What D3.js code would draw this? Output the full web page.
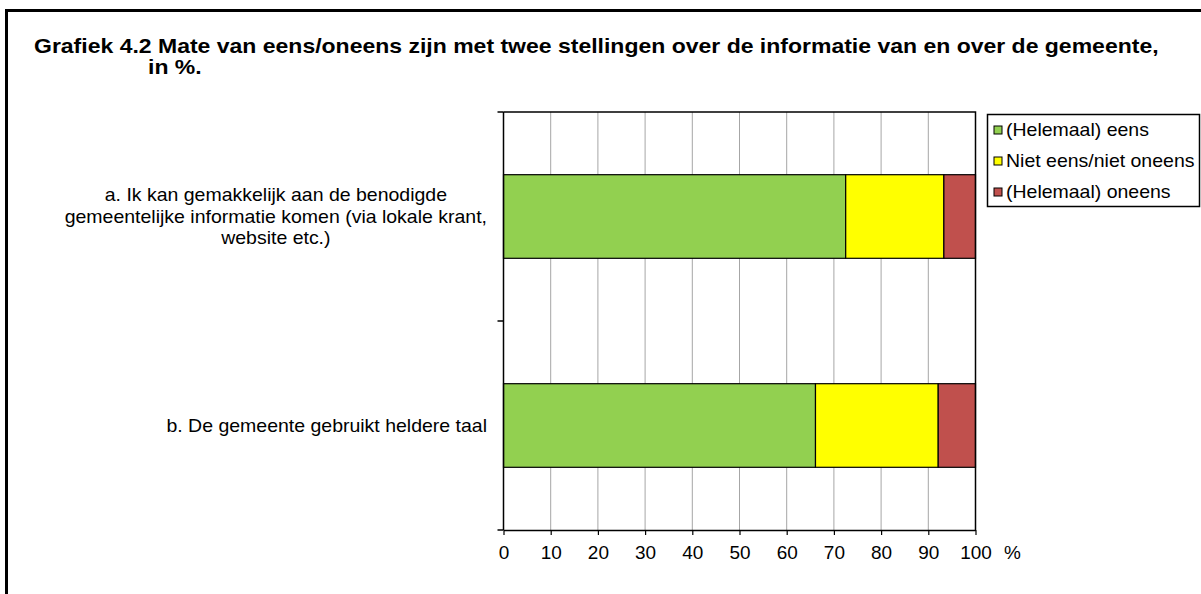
<!DOCTYPE html>
<html>
<head>
<meta charset="utf-8">
<script src="https://cdn.jsdelivr.net/npm/d3@7"></script>
<style>
  body { margin: 0; background: #fff; }
  svg { display: block; font-family: "Liberation Sans", Arial, sans-serif; }
</style>
</head>
<body>
<svg id="chart" width="1201" height="594"></svg>
<script>
// data
const categories = [
  ["a. Ik kan gemakkelijk aan de benodigde", "gemeentelijke informatie komen (via lokale krant,", "website etc.)"],
  ["b. De gemeente gebruikt heldere taal"]
]
const seriesNames = ["(Helemaal) eens", "Niet eens/niet oneens", "(Helemaal) oneens"]
const seriesColours = ["#92d050", "#ffff00", "#c0504d"]
const eens = [72.5, 66.1]
const neutraal = [20.8, 26.0]
const oneens = [6.7, 7.9]
const xTicks = [0, 10, 20, 30, 40, 50, 60, 70, 80, 90, 100]

const svg = d3.select("#chart")

// the source picture is a bit wider than tall, so text gets a horizontal stretch
function stretchedText(parent, str, x, y, size, sx, anchor) {
  return parent.append("text")
    .attr("transform", `translate(${x},${y}) scale(${sx},1)`)
    .attr("font-size", `${size}px`)
    .attr("text-anchor", anchor || "start")
    .text(str)
}

// outer frame (runs off the right and bottom edge)
svg.append("rect")
  .attr("x", 6.5).attr("y", 10.5)
  .attr("width", 1300).attr("height", 700)
  .style("fill", "white").style("stroke", "black").style("stroke-width", 3)

// title
stretchedText(svg, "Grafiek 4.2 Mate van eens/oneens zijn met twee stellingen over de informatie van en over de gemeente,", 34, 53, 20, 1.15)
  .attr("font-weight", "bold")
stretchedText(svg, "in %.", 148, 74, 20, 1.15)
  .attr("font-weight", "bold")

const plot = { left: 503.5, right: 975.5, top: 112, bottom: 530 }
const fontSize = 18
const stretch = 1.083

const x = d3.scaleLinear().domain([0, 100]).range([plot.left, plot.right])
const y = d3.scaleBand()
  .domain(d3.range(categories.length))
  .range([plot.top, plot.bottom])
  .paddingInner(0.6)
  .paddingOuter(0.3)

// gridlines
svg.append("g")
  .selectAll("line")
  .data(xTicks.slice(1, -1))
  .join("line")
  .attr("x1", d => x(d)).attr("x2", d => x(d))
  .attr("y1", plot.top).attr("y2", plot.bottom)
  .style("stroke", "#a6a6a6").style("stroke-width", 1)

// stacked bars
const rows = categories.map((c, i) => ({ i, values: [eens[i], neutraal[i], oneens[i]] }))
const stacked = d3.stack().keys([0, 1, 2]).value((d, k) => d.values[k])(rows)

svg.append("g")
  .selectAll("g")
  .data(stacked)
  .join("g")
  .style("fill", (d, k) => seriesColours[k])
  .selectAll("rect")
  .data(d => d)
  .join("rect")
  .attr("x", d => x(d[0]))
  .attr("width", d => x(d[1]) - x(d[0]))
  .attr("y", d => y(d.data.i))
  .attr("height", y.bandwidth())
  .style("stroke", "black").style("stroke-width", 1.2)

// plot frame: top and right edges
svg.append("path")
  .attr("d", `M${plot.left},${plot.top}H${plot.right}V${plot.bottom}`)
  .style("fill", "none").style("stroke", "black").style("stroke-width", 1.5)

// x axis
const xAxis = svg.append("g")
  .attr("transform", `translate(0,${plot.bottom})`)
  .call(d3.axisBottom(x).tickValues(xTicks).tickSize(5).tickSizeOuter(0))
xAxis.select(".domain").style("stroke-width", 1.5)
xAxis.selectAll(".tick line").style("stroke-width", 1.2)
xAxis.selectAll("text")
  .attr("font-size", "17.5px")
  .attr("font-family", "Liberation Sans, Arial, sans-serif")
  .attr("fill", "black")
  .attr("transform", `scale(${stretch},1)`)
  .attr("y", 23).attr("dy", "0.35em")
stretchedText(svg, "%", 1004, 559, 17.5, stretch)

// y axis: line with ticks at category boundaries
const yAxisG = svg.append("g")
yAxisG.append("line")
  .attr("x1", plot.left).attr("x2", plot.left)
  .attr("y1", plot.top).attr("y2", plot.bottom)
  .style("stroke", "black").style("stroke-width", 1.5)
const boundaries = [plot.top, (plot.top + plot.bottom) / 2, plot.bottom]
yAxisG.selectAll("line.tick")
  .data(boundaries)
  .join("line")
  .attr("class", "tick")
  .attr("x1", plot.left - 6).attr("x2", plot.left)
  .attr("y1", d => d).attr("y2", d => d)
  .style("stroke", "black").style("stroke-width", 1.5)

// category labels: block right-aligned, lines centred in block
const labelRight = 487
const lineH = 21.5
categories.forEach((lines, i) => {
  const g = svg.append("g")
  const texts = lines.map(s => stretchedText(g, s, 0, 0, fontSize, stretch, "middle"))
  const maxW = d3.max(texts, t => t.node().getComputedTextLength()) * stretch
  const cy = y(i) + y.bandwidth() / 2
  texts.forEach((t, j) => {
    const ly = cy + (j - (lines.length - 1) / 2) * lineH + fontSize * 0.35
    t.attr("transform", `translate(${labelRight - maxW / 2},${ly}) scale(${stretch},1)`)
  })
})

// legend
const legend = svg.append("g").attr("transform", "translate(987,114)")
legend.append("rect")
  .attr("x", 0.5).attr("y", 0.5)
  .attr("width", 212).attr("height", 92)
  .style("fill", "white").style("stroke", "black").style("stroke-width", 1.5)
seriesNames.forEach((name, k) => {
  const cy = 16 + k * 31
  legend.append("rect")
    .attr("x", 7).attr("y", cy - 4)
    .attr("width", 8).attr("height", 8)
    .style("fill", seriesColours[k])
    .style("stroke", "black").style("stroke-width", 1)
  stretchedText(legend, name, 19, cy + fontSize * 0.35, fontSize, stretch)
})
</script>
</body>
</html>
